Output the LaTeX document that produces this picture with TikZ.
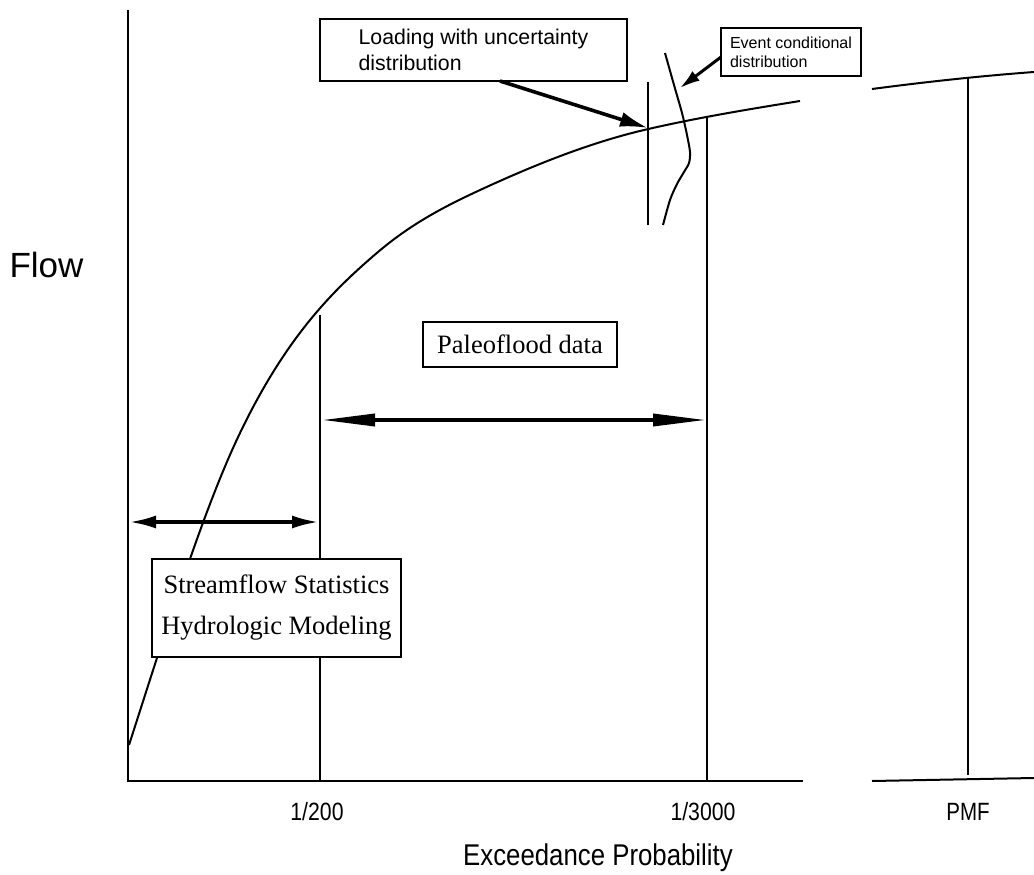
\documentclass[tikz,border=0pt]{standalone}
\usepackage{fontspec}
\setmainfont{Liberation Serif}
\setsansfont{Liberation Sans}
\usetikzlibrary{arrows.meta}
\begin{document}
\begin{tikzpicture}[x=1pt,y=-1pt,
  axis/.style={line width=2pt},
  thinline/.style={line width=2pt},
  box/.style={draw,line width=2pt,fill=white,inner sep=0pt},
  serifbox/.style={box,font=\rmfamily\fontsize{26.5}{41}\selectfont,align=center},
  bigarrow/.style={line width=3.6pt,{Triangle[length=53pt,width=12pt]}-{Triangle[length=53pt,width=12pt]}},
  medarrow/.style={line width=3.6pt,{Latex[length=27pt,width=13pt]}-{Latex[length=27pt,width=13pt]}},
  callout/.style={line width=3.6pt,-{Latex[length=28pt,width=15pt]}},
  smallcallout/.style={line width=3pt,-{Latex[length=20pt,width=12pt]}},
  ticklabel/.style={font=\sffamily\fontsize{25}{30}\selectfont,anchor=base,inner sep=0pt}
]
\useasboundingbox (0,0) rectangle (1034,875);

% axes
\coordinate (ytop) at (128,10);
\coordinate (origin) at (128,781);
\coordinate (xend) at (803,781);
\draw[axis] (ytop) -- (origin) -- (xend);
\coordinate (xtwoa) at (872,781);
\coordinate (xtwob) at (1034,778);
\draw[axis] (xtwoa) -- (xtwob);

% frequency curve
\coordinate (ca) at (129,745);
\coordinate (cb) at (240,433);
\coordinate (cc) at (378,252);
\coordinate (cd) at (481.6,189.3);
\coordinate (ce) at (647,129.3);
\coordinate (cf) at (800,101);
\draw[thinline] (ca) .. controls (166,630.3) and (203,510) .. (cb)
  .. controls (286,337.3) and (332,291.1) .. (cc)
  .. controls (412.5,222.7) and (447.1,205.2) .. (cd)
  .. controls (536.7,163.9) and (591.9,142) .. (ce)
  .. controls (698,117.6) and (749,109.2) .. (cf);
\coordinate (ra) at (872,89);
\coordinate (rb) at (1034,72);
\draw[thinline] (ra) .. controls (925,82) and (980,76) .. (rb);

% vertical markers
\coordinate (atwotop) at (320,315);
\coordinate (atwobot) at (320,781);
\draw[thinline] (atwotop) -- (atwobot);
\coordinate (athrtop) at (707,117);
\coordinate (athrbot) at (707,781);
\draw[thinline] (athrtop) -- (athrbot);
\coordinate (loadtop) at (648,82);
\coordinate (loadbot) at (648,225);
\draw[thinline] (loadtop) -- (loadbot);
\coordinate (pmftop) at (968,78);
\coordinate (pmfbot) at (968,775);
\draw[thinline] (pmftop) -- (pmfbot);

% event conditional distribution curve
\draw[thinline] plot[smooth] coordinates {(665,53) (674,85) (682,113) (687,135) (690,152) (689,163) (684,172) (677,184) (670,200) (663,225)};

% range arrows
\coordinate (pleft) at (322,420);
\coordinate (pright) at (706,420);
\draw[bigarrow] (pleft) -- (pright);
\coordinate (sleft) at (129,522);
\coordinate (sright) at (319,522);
\draw[medarrow] (sleft) -- (sright);

% boxes
\node[serifbox,minimum width=249pt,minimum height=98pt] (stream) at (276.5,608) {Streamflow Statistics\\Hydrologic Modeling};
\node[serifbox,minimum width=194pt,minimum height=45pt] (paleo) at (520,344.5) {Paleoflood data};
\node[box,font=\sffamily\fontsize{21.3}{26}\selectfont,align=left,minimum width=307pt,minimum height=62pt] (load) at (473.5,50) {Loading with uncertainty\\distribution};
\node[box,font=\sffamily\fontsize{16}{19}\selectfont,align=left,minimum width=140pt,minimum height=48pt] (event) at (791,52) {Event conditional\\distribution};

% callout arrows
\coordinate (loadstart) at (500,81);
\coordinate (loadtip) at (648,128);
\draw[callout] (loadstart) -- (loadtip);
\coordinate (evstart) at (721,57);
\coordinate (evtip) at (680,88);
\draw[smallcallout] (evstart) -- (evtip);

% labels
\node[font=\sffamily\fontsize{35}{40}\selectfont,anchor=base,inner sep=0pt] (flow) at (46.5,277) {Flow};
\node[ticklabel] (ltwo) at (317,820) {\scalebox{0.85}[1]{1/200}};
\node[ticklabel] (lthr) at (703,820) {\scalebox{0.85}[1]{1/3000}};
\node[ticklabel] (lpmf) at (968,820) {\scalebox{0.82}[1]{PMF}};
\node[font=\sffamily\fontsize{30}{34}\selectfont,anchor=base,inner sep=0pt] (xlab) at (598,865) {\scalebox{0.86}[1]{Exceedance Probability}};
\end{tikzpicture}
\end{document}
